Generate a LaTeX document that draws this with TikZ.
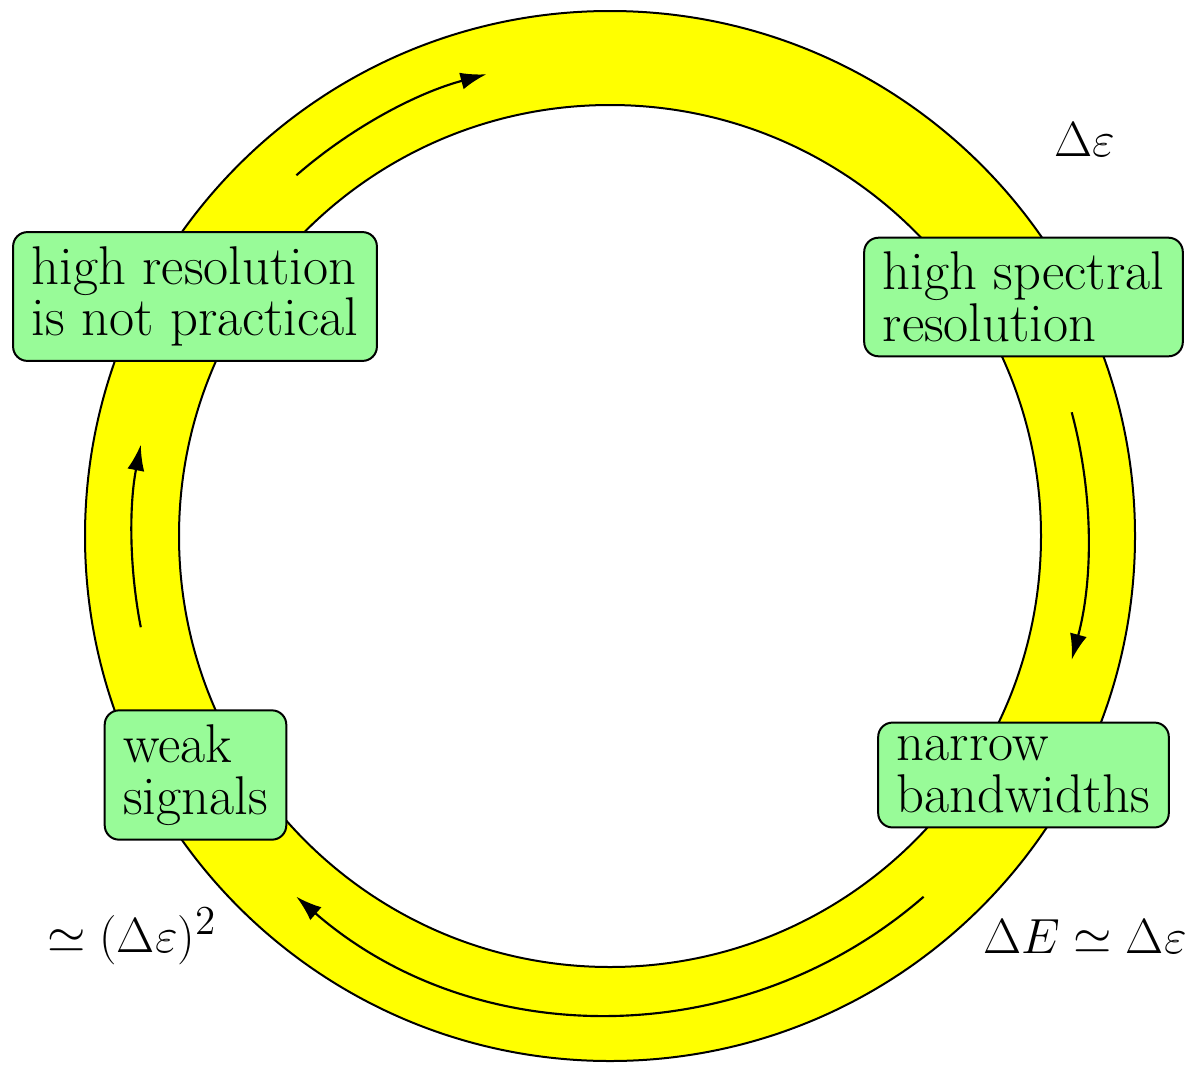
\documentclass[tikz,border=0pt]{standalone}
\usetikzlibrary{arrows.meta}
\definecolor{boxgreen}{RGB}{152,251,152}
\definecolor{ringyellow}{RGB}{255,255,0}
\tikzset{
  px/.style={x=0.35pt,y=0.35pt},
  infobox/.style={draw=black, fill=boxgreen, rounded corners=5pt, line width=0.7pt,
    align=left, inner xsep=6.5pt, inner ysep=5pt,
    font=\fontsize{19.1}{18.1}\selectfont},
  mlabel/.style={font=\fontsize{19}{18}\selectfont, inner sep=0pt},
  flow/.style={line width=0.75pt, -{Latex[length=9pt,width=6pt]}},
  ring/.style={line width=0.7pt}
}
\begin{document}
\begin{tikzpicture}[px]
\useasboundingbox (0,0) rectangle (1198,1064);
\coordinate (c) at (610,528);
% ring
\fill[ringyellow, even odd rule] (c) circle[radius=525] (c) circle[radius=431];
\draw[ring] (c) circle[radius=525];
\draw[ring] (c) circle[radius=431];
% flow arrows
\draw[flow] ([shift={(c)}]131:478) arc[start angle=131, end angle=105, radius=478];
\draw[flow] ([shift={(c)}]15:478) arc[start angle=15, end angle=-15, radius=478];
\draw[flow] ([shift={(c)}]-49:478) arc[start angle=-49, end angle=-131, radius=478];
\draw[flow] ([shift={(c)}]-169:478) arc[start angle=-169, end angle=-191, radius=478];
% boxes
\node[infobox] (hrnp) at (195,767.5) {high resolution\\is not practical};
\node[infobox] (hsr) at (1023.5,767) {high spectral\\resolution};
\node[infobox] (ws) at (195.5,289) {weak\\signals};
\node[infobox] (nb) at (1023.5,289) {narrow\\bandwidths};
% labels
\node[mlabel] (l1) at (1085,924) {$\Delta\varepsilon$};
\node[mlabel] (l2) at (132,128) {$\simeq(\Delta\varepsilon)^2$};
\node[mlabel] (l3) at (1085,127) {$\Delta E\simeq\Delta\varepsilon$};
\end{tikzpicture}
\end{document}
